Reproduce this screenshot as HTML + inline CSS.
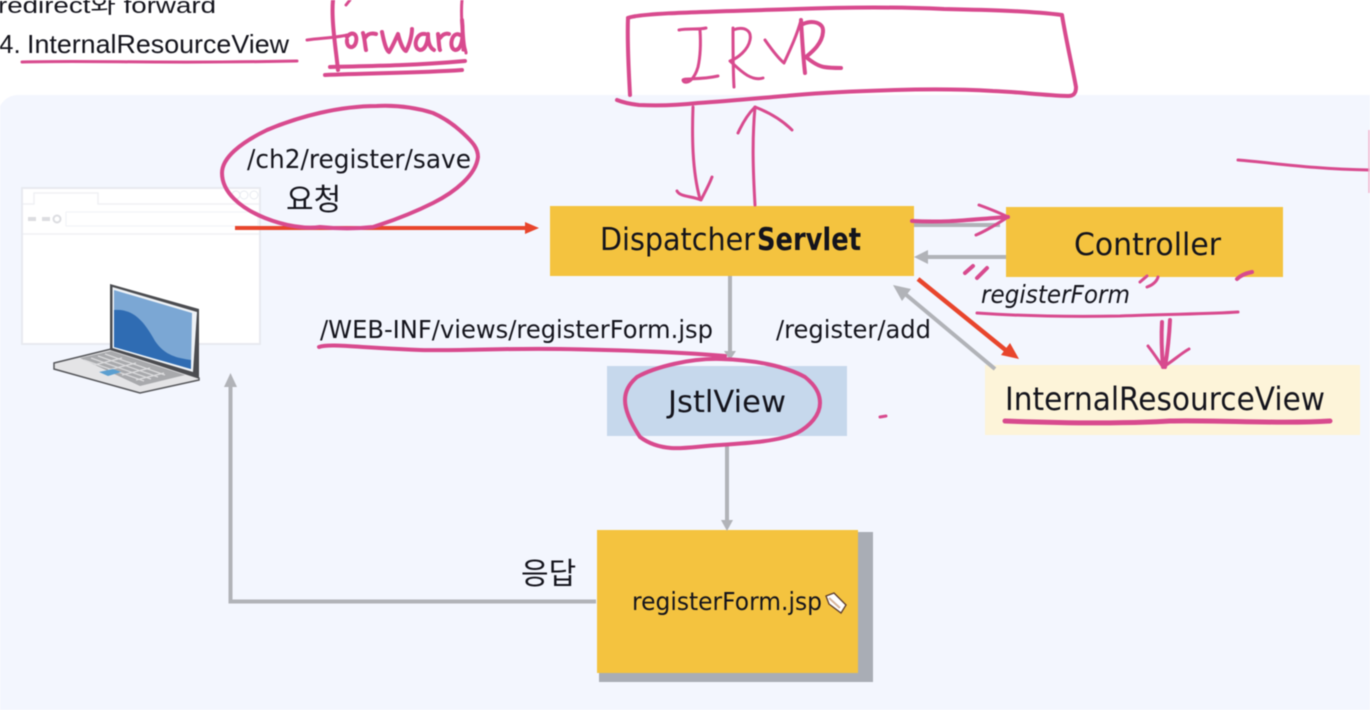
<!DOCTYPE html>
<html>
<head>
<meta charset="utf-8">
<style>
html,body{margin:0;padding:0;background:#fff;width:1370px;height:710px;overflow:hidden}
svg{display:block;filter:blur(.5px)}
text{font-family:"DejaVu Sans","Liberation Sans","Noto Sans CJK KR",sans-serif;fill:#14141c}
.p{fill:none;stroke:#d84a8e;stroke-width:3;stroke-linecap:round;stroke-linejoin:round}
.t{stroke-width:4}
.g{fill:none;stroke:#b1b3b8;stroke-width:4}
</style>
</head>
<body>
<svg width="1370" height="710" viewBox="0 0 1370 710" xmlns="http://www.w3.org/2000/svg">
<rect width="1370" height="710" fill="#fff"/>
<rect x="-2" y="95" width="1400" height="640" rx="20" fill="#f3f6fe"/>

<!-- top text -->
<text x="-2" y="13" font-size="22" textLength="218" lengthAdjust="spacingAndGlyphs" style="font-family:'Liberation Sans','Noto Sans CJK KR',sans-serif">redirect와 forward</text>
<text x="-1" y="53" font-size="26" style="font-family:'Liberation Sans',sans-serif">4.</text>
<text x="27" y="53" font-size="26" textLength="262" lengthAdjust="spacingAndGlyphs" style="font-family:'Liberation Sans',sans-serif">InternalResourceView</text>

<!-- browser -->
<rect x="22" y="188" width="238" height="156" fill="#fff" stroke="#e8eaf0" stroke-width="2"/>
<path d="M23 204H34V193H98V204H259M23 234H259" fill="none" stroke="#f0f1f5" stroke-width="1.5"/>
<rect x="66" y="212" width="192" height="14" fill="#fff" stroke="#f1f2f6"/>
<path d="M28 219h8M42 219h8" stroke="#dcdde1" stroke-width="4"/>
<circle cx="57" cy="219" r="3.500" fill="none" stroke="#dcdde1" stroke-width="2"/>
<circle cx="236" cy="195" r="4" fill="none" stroke="#e8ebf1"/>
<circle cx="244" cy="195" r="4" fill="none" stroke="#e8ebf1"/>
<circle cx="254" cy="195" r="4" fill="none" stroke="#e8ebf1"/>

<!-- laptop -->
<polygon points="54,363 111,349 199,378 199,380 140,393 54,369" fill="#e4e4e6" stroke="#55565a" stroke-width="1.500"/>
<polygon points="80,358 111,351 185,375 140,386" fill="#a8a9ac"/>
<path d="M84 360l60 21M91 358l60 21M98 356l60 21M105 354l60 21M94 365l28-7M108 370l28-7M122 375l28-7M136 380l28-7" stroke="#dcdcde" stroke-width="1.200" fill="none"/>
<polygon points="99,372 113,369 121,372 108,376" fill="#5b9fd0"/>
<polygon points="110,284 199,309 199,378 110,350" fill="#4b4c50"/>
<polygon points="112.500,287 197,312 193,372 112.500,348" fill="#eef2f6"/>
<polygon points="114,290 192,313 191,369 114,347" fill="#7ba7d4"/>
<path d="M114 310C135 308 146 325 155 341C165 356 178 358 191 360V369L114 347Z" fill="#2f6cb3"/>

<!-- boxes -->
<rect x="550" y="206" width="364" height="70" fill="#f4c33f"/>
<rect x="1006" y="207" width="277" height="70" fill="#f4c33f"/>
<rect x="985" y="365" width="375" height="70" fill="#fdf4d9"/>
<rect x="607" y="366" width="240" height="70" fill="#c6d8ec"/>
<rect x="599" y="532" width="274" height="150" fill="#a9adb5"/>
<rect x="597" y="530" width="261" height="143" fill="#f4c33f"/>

<!-- gray connectors -->
<path class="g" d="M730 276V352"/>
<polygon points="724,351 736,351 730,360" fill="#b1b3b8"/>
<path class="g" d="M727 444V522"/>
<polygon points="721,520 733,520 727,531" fill="#b1b3b8"/>
<path class="g" d="M596 601.500H230.500V384"/>
<polygon points="224,387 237,387 230.500,373" fill="#b1b3b8"/>
<path class="g" d="M1006 257H926"/>
<polygon points="914,257 928,250 928,264" fill="#b1b3b8"/>
<path class="g" d="M995 369L904 293"/>
<polygon points="893,285 911,289 902,301" fill="#b1b3b8"/>
<path d="M914 225H1000" stroke="#b0b2b8" stroke-width="4"/>

<!-- red connectors -->
<path d="M235 228H528" stroke="#e8452c" stroke-width="4"/>
<polygon points="525,222 539,228 525,234" fill="#e8452c"/>
<path d="M918 279L1008 352" stroke="#e8452c" stroke-width="4.500"/>
<polygon points="1019,359 1001,355 1010,343" fill="#e8452c"/>

<!-- labels -->
<text x="247" y="168" font-size="26" textLength="224" lengthAdjust="spacingAndGlyphs">/ch2/register/save</text>
<text x="286" y="210" font-size="30" style="font-family:'Noto Sans CJK KR',sans-serif">요청</text>
<text x="600" y="250" font-size="31" textLength="155" lengthAdjust="spacingAndGlyphs">Dispatcher</text>
<text x="757" y="250" font-size="31" font-weight="700" textLength="104" lengthAdjust="spacingAndGlyphs">Servlet</text>
<text x="1074" y="255" font-size="31" textLength="147" lengthAdjust="spacingAndGlyphs">Controller</text>
<text x="981" y="303" font-size="25" font-style="italic" textLength="149" lengthAdjust="spacingAndGlyphs">registerForm</text>
<text x="320" y="338" font-size="25" textLength="393" lengthAdjust="spacingAndGlyphs">/WEB-INF/views/registerForm.jsp</text>
<text x="776" y="338" font-size="25" textLength="155" lengthAdjust="spacingAndGlyphs">/register/add</text>
<text x="1005" y="410" font-size="32" textLength="320" lengthAdjust="spacingAndGlyphs">InternalResourceView</text>
<text x="668" y="412" font-size="30" textLength="118" lengthAdjust="spacingAndGlyphs">JstlView</text>
<text x="521" y="584" font-size="30" style="font-family:'Noto Sans CJK KR',sans-serif">응답</text>
<text x="632" y="610" font-size="25" textLength="190" lengthAdjust="spacingAndGlyphs">registerForm.jsp</text>

<!-- pencil cursor -->
<polygon points="826,596 834,593 846,605 841,613 829,604" fill="#fff" stroke="#5b3b2c" stroke-width="1.300"/>
<path d="M829 598l11 10" stroke="#d7b59a" stroke-width="2"/>

<!-- forward annotation -->
<path class="p" d="M22 62C100 60 150 64 297 61"/>
<path class="p" d="M307 40C320 38 335 38 347 35"/>
<path class="p t" d="M333 0C331 20 336 50 338 70"/>
<path class="p" d="M462 0C460 20 464 35 463 50"/>
<path class="p" d="M350 0L346 5"/>
<path class="p t" d="M347 37C351 31 358 33 356 42C354 50 346 48 347 40M363 33C365 40 365 46 366 50M365 38C368 33 372 33 376 34M382 32C384 42 386 50 389 52C393 46 396 38 398 34C400 42 403 50 406 51C410 44 412 34 412 29M425 34C416 32 412 48 420 50C426 50 428 40 428 34C428 42 430 48 434 50M438 34C439 42 439 48 440 50M440 38C443 34 446 33 449 34M460 35C452 30 448 48 455 50C461 50 464 40 462 20C463 35 463 45 465 50"/>
<path class="p t" d="M330 67C380 66 420 65 465 61"/>
<path class="p t" d="M325 75C370 73 420 73 462 70"/>
<path class="p" d="M466 52V53"/>

<!-- IRVR box -->
<path class="p t" d="M628 18C640 13 700 12 796 9C850 7 900 7 944 9C990 10 1030 11 1062 15C1066 40 1072 65 1076 87C1076 93 1074 96 1068 96C1040 95 1020 92 993 91C960 89 930 89 895 90C860 91 830 92 796 95C760 98 730 101 698 103C680 105 660 106 639 105C630 104 622 102 617 100"/>
<path class="p t" d="M628 18C627 45 629 75 630 95"/>
<path class="p" d="M679 30C688 28 698 30 706 28M700 30C701 45 700 58 698 67C696 74 693 78 691 80C688 83 683 83 683 80C684 78 700 80 718 76"/>
<path class="p" d="M733 28C733 50 733 70 734 87M733 30C744 26 752 30 750 40C748 50 738 58 730 61C738 68 750 82 763 78"/>
<path class="p" d="M765 40C772 50 778 58 784 63C790 50 797 35 801 20"/>
<path class="p t" d="M801 20C802 38 803 55 805 73M803 24C812 20 824 22 823 32C822 44 812 52 806 57C812 62 818 66 824 67C830 68 836 68 841 68"/>

<!-- pink arrows to IRVR -->
<path class="p" d="M693 107C692 135 692 170 700 199"/>
<path class="p" d="M677 191C680 197 692 196 701 200C705 192 709 185 712 177"/>
<path class="p" d="M755 205C753 170 752 140 755 107"/>
<path class="p" d="M738 133C743 122 748 114 755 107C768 112 782 120 792 130"/>

<!-- pink arrow to Controller -->
<path class="p t" d="M912 221C950 223 975 219 1008 217"/>
<path class="p" d="M979 205C990 209 1000 213 1008 217C1000 222 988 230 976 235"/>

<path class="p" d="M1238 160C1275 163 1310 169 1370 170"/>
<path d="M1369 130V193" stroke="#f1b5cf" stroke-width="1.500"/>

<!-- circle on request label -->
<path class="p t" d="M377 106C340 106 300 116 267 130C240 143 222 158 222 173C222 192 240 208 265 218C285 226 305 229 320 227C340 229 355 229 373 227C395 220 415 212 433 203C455 192 476 175 478 157C478 148 472 142 467 137C458 128 447 119 433 113C417 108 397 105 377 106"/>

<!-- JSP path + JstlView circle -->
<path class="p t" d="M319 347C330 343 360 348 420 350C470 351 500 348 560 349C620 350 680 352 725 356"/>
<path class="p t" d="M721 359C755 360 785 366 805 377C815 385 820 393 820 403C820 415 810 426 797 433C780 441 750 443 720 445C700 446 685 449 671 448C658 447 648 443 640 437C632 425 625 412 625 400C625 390 630 383 637 377C655 367 690 358 721 359"/>
<path class="p" d="M880 417L886 416"/>

<!-- registerForm ticks and underline -->
<path class="p t" d="M965 273L973 266M977 278L987 268"/>
<path class="p" d="M1140 282L1147 276M1147 287C1153 285 1157 281 1158 277"/>
<path class="p t" d="M1237 279C1241 275 1247 273 1252 272"/>
<path class="p" d="M977 313C1020 316 1060 317 1120 316C1170 314 1210 314 1238 312"/>
<path class="p t" d="M1162 322C1161 340 1162 355 1163 367M1170 320C1169 340 1167 355 1165 367"/>
<path class="p" d="M1148 346C1155 355 1160 363 1163 367C1172 362 1180 354 1189 349"/>
<path class="p" style="stroke-width:5" d="M1005 421C1060 423 1120 424 1170 421C1220 420 1280 424 1330 421"/>
</svg>
</body>
</html>
